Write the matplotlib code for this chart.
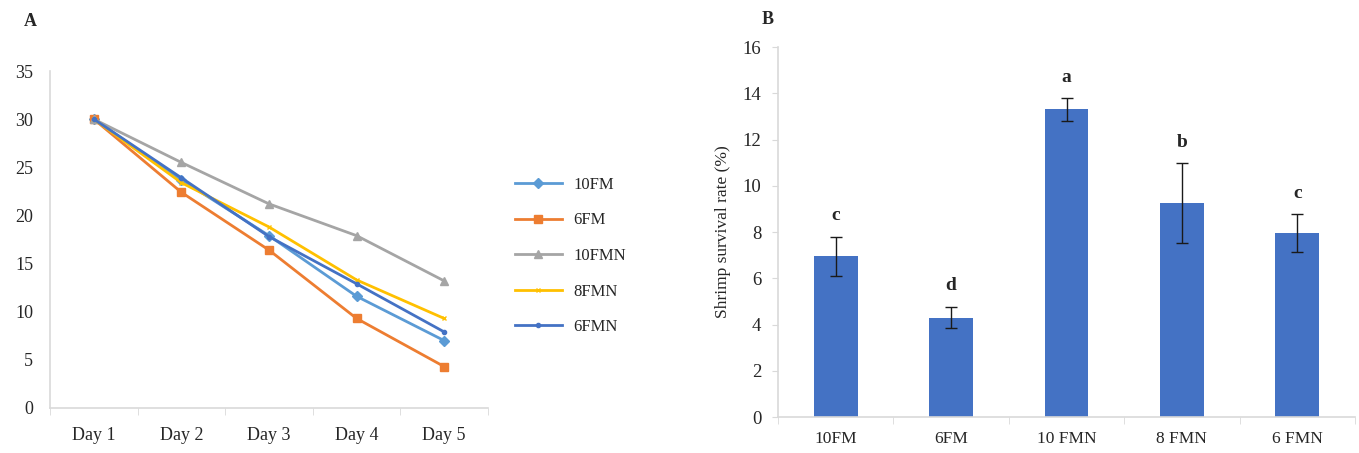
import matplotlib
matplotlib.use("Agg")
import matplotlib.pyplot as plt
import numpy as np

# ---- data: panel A ----
days = ["Day 1", "Day 2", "Day 3", "Day 4", "Day 5"]
s_10FM = [30, 23.7, 17.9, 11.6, 7.0]
s_6FM = [30, 22.4, 16.4, 9.3, 4.3]
s_10FMN = [30, 25.5, 21.2, 17.9, 13.2]
s_8FMN = [30, 23.4, 18.8, 13.3, 9.3]
s_6FMN = [30, 23.9, 17.8, 12.9, 7.9]
series_names = ["10FM", "6FM", "10FMN", "8FMN", "6FMN"]

# ---- data: panel B ----
groups = ["10FM", "6FM", "10 FMN", "8 FMN", "6 FMN"]
survival = [6.95, 4.3, 13.3, 9.25, 7.95]
errors = [0.85, 0.47, 0.48, 1.72, 0.82]
letters = ["c", "d", "a", "b", "c"]

SERIF = ["Liberation Serif", "DejaVu Serif"]
plt.rcParams["font.family"] = SERIF
AX_COL = "#D9D9D9"
TXT = "#262626"

fig = plt.figure(figsize=(13.59, 4.53), dpi=100)

# ---------------- Panel A ----------------
axA = fig.add_axes([50 / 1359, 45 / 453, 438 / 1359, 337 / 453])
x = np.arange(len(days))
styles = [
    (s_10FM, "#5B9BD5", "D", 5),
    (s_6FM, "#ED7D31", "s", 6),
    (s_10FMN, "#A5A5A5", "^", 6),
    (s_8FMN, "#FFC000", "x", 3),
    (s_6FMN, "#4472C4", "o", 3),
]
for name, (vals, col, mk, ms) in zip(series_names, styles):
    axA.plot(x, vals, color=col, lw=2.0, marker=mk, ms=ms, label=name,
             markeredgecolor=col)
axA.set_xlim(-0.5, 4.5)
axA.set_ylim(0, 35)
axA.set_yticks(np.arange(0, 36, 5))
axA.set_xticks(x)
axA.set_xticklabels(days)
axA.set_xticks(np.arange(-0.5, 4.6, 1.0), minor=True)
for s in ["top", "right"]:
    axA.spines[s].set_visible(False)
for s in ["left", "bottom"]:
    axA.spines[s].set_color(AX_COL)
    axA.spines[s].set_linewidth(1.2)
axA.tick_params(axis="x", which="major", length=0, pad=14, labelsize=13, colors=TXT)
axA.tick_params(axis="x", which="minor", length=5, color=AX_COL, direction="out")
axA.tick_params(axis="y", length=0, pad=12, labelsize=13, colors=TXT)
leg = axA.legend(loc="center left", bbox_to_anchor=(500 / 1359, 1 - 256 / 453),
                 bbox_transform=fig.transFigure, frameon=False,
                 fontsize=12, labelspacing=1.17, handlelength=2.8, handletextpad=0.7,
                 labelcolor=TXT)
fig.text(30 / 1359, 1 - 22 / 453, "A", fontsize=13, fontweight="bold",
         ha="center", va="center", color=TXT)

# ---------------- Panel B ----------------
axB = fig.add_axes([778 / 1359, 36 / 453, 577 / 1359, 370 / 453])
xb = np.arange(len(groups))
axB.bar(xb, survival, width=0.38, color="#4472C4", zorder=2)
axB.errorbar(xb, survival, yerr=errors, fmt="none", ecolor="#1a1a1a",
             elinewidth=1.0, capsize=4, capthick=1.0, zorder=3)
for xi, v, e, lab in zip(xb, survival, errors, letters):
    axB.annotate(lab, (xi, v + e), xytext=(0, 15), textcoords="offset points",
                 ha="center", va="center", fontsize=14, fontweight="bold", color=TXT)
axB.set_xlim(-0.5, 4.5)
axB.set_ylim(0, 16)
axB.set_yticks(np.arange(0, 17, 2))
axB.set_xticks(xb)
axB.set_xticklabels(groups)
axB.set_xticks(np.arange(-0.5, 4.6, 1.0), minor=True)
for s in ["top", "right"]:
    axB.spines[s].set_visible(False)
for s in ["left", "bottom"]:
    axB.spines[s].set_color(AX_COL)
    axB.spines[s].set_linewidth(1.2)
axB.tick_params(axis="x", which="major", length=0, pad=10, labelsize=12.5, colors=TXT)
axB.tick_params(axis="x", which="minor", length=5, color=AX_COL, direction="out")
axB.tick_params(axis="y", length=4, color=AX_COL, pad=8, labelsize=13.5, colors=TXT)
axB.set_ylabel("Shrimp survival rate (%)", fontsize=12.5, color=TXT, labelpad=8)
fig.text(768 / 1359, 1 - 20 / 453, "B", fontsize=13, fontweight="bold",
         ha="center", va="center", color=TXT)

fig.savefig("out.png", dpi=100)
